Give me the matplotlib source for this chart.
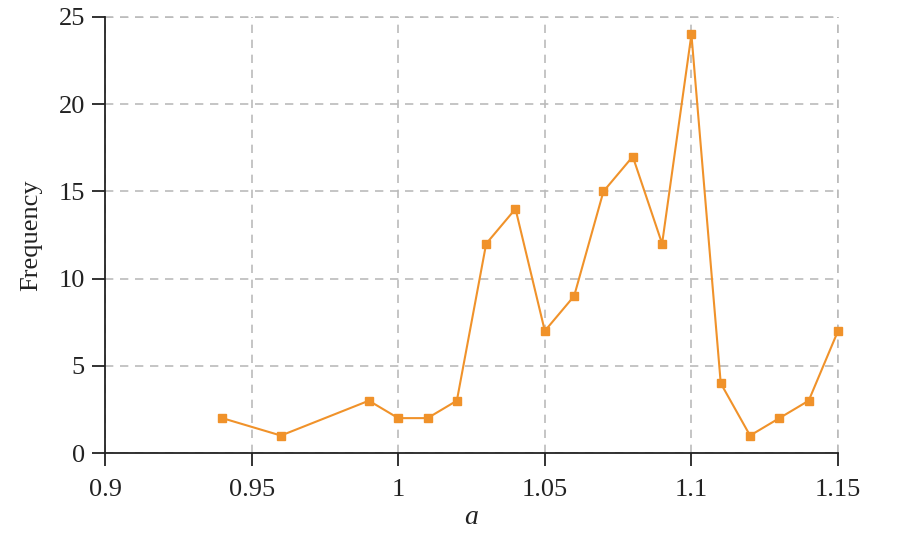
import matplotlib
matplotlib.use("Agg")
import matplotlib.pyplot as plt

a_values = [0.94, 0.96, 0.99, 1.00, 1.01, 1.02, 1.03, 1.04, 1.05, 1.06,
            1.07, 1.08, 1.09, 1.10, 1.11, 1.12, 1.13, 1.14, 1.15]
frequency = [2, 1, 3, 2, 2, 3, 12, 14, 7, 9,
             15, 17, 12, 24, 4, 1, 2, 3, 7]
x_ticks = [0.9, 0.95, 1.0, 1.05, 1.1, 1.15]
x_tick_labels = ["0.9", "0.95", "1", "1.05", "1.1", "1.15"]
y_ticks = [0, 5, 10, 15, 20, 25]

plt.rcParams["font.family"] = ["Liberation Serif", "DejaVu Serif"]
plt.rcParams["mathtext.fontset"] = "custom"
plt.rcParams["mathtext.it"] = "Liberation Serif:italic"

fig = plt.figure(figsize=(9.1, 5.57), dpi=100)
ax = fig.add_axes([0.1154, 0.1867, 0.8055, 0.7828])

ax.plot(a_values, frequency, color="#F0922A", linewidth=1.5,
        marker="s", markersize=5.5, zorder=3, clip_on=False)

ax.set_xlim(0.9, 1.15)
ax.set_ylim(0, 25)
ax.set_xticks(x_ticks)
ax.set_xticklabels(x_tick_labels)
ax.set_yticks(y_ticks)

dash = (0, (5, 4))
ax.grid(True, linestyle=dash, color="#BBBBBB", linewidth=1.2)
ax.set_axisbelow(True)
for side in ["top", "right"]:
    ax.spines[side].set_visible(False)
for side in ["left", "bottom"]:
    ax.spines[side].set_linewidth(1.3)
    ax.spines[side].set_color("#222222")
    ax.spines[side].set_zorder(4)

# dashed frame on top and right, drawn like the grid
ax.axhline(25, linestyle=dash, color="#BBBBBB", linewidth=1.2, clip_on=False, zorder=1)
ax.axvline(1.15, linestyle=dash, color="#BBBBBB", linewidth=1.2, clip_on=False, zorder=1)

ax.tick_params(axis="both", direction="out", length=9.5, width=1.3,
               color="#222222", labelsize=19, labelcolor="#222222")
ax.tick_params(axis="x", pad=9)
ax.tick_params(axis="y", pad=5)

ax.set_xlabel("$a$", fontsize=20, color="#222222", labelpad=3)
ax.set_ylabel("Frequency", fontsize=19, color="#222222", labelpad=12)

fig.savefig("out.png", dpi=100)
